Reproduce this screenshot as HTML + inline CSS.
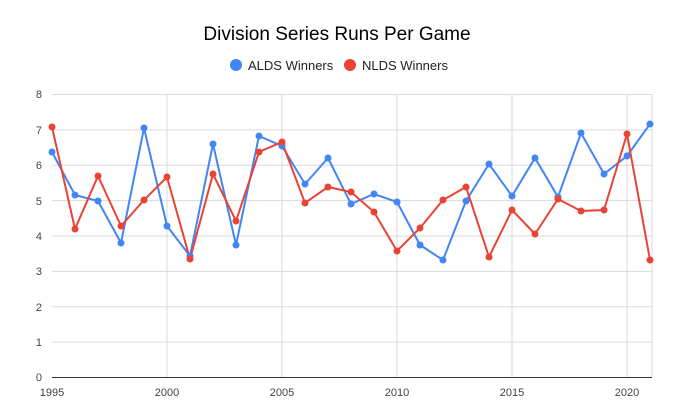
<!DOCTYPE html>
<html><head><meta charset="utf-8"><style>
body{margin:0;background:#fff;}
svg{display:block;font-family:"Liberation Sans",sans-serif;}
</style></head><body>
<svg width="675" height="418" viewBox="0 0 675 418">
<rect width="675" height="418" fill="#fff"/>
<text x="337" y="40" text-anchor="middle" font-size="19" fill="#000">Division Series Runs Per Game</text>
<circle cx="236" cy="65" r="6" fill="#4285f4"/>
<text x="248" y="70" font-size="13" fill="#222">ALDS Winners</text>
<circle cx="350" cy="65" r="6" fill="#ea4335"/>
<text x="362" y="70" font-size="13" fill="#222">NLDS Winners</text>
<g stroke="#d9d9d9" stroke-width="1">
<line x1="52" x2="652" y1="94.5" y2="94.5"/>
<line x1="52" x2="652" y1="129.9" y2="129.9"/>
<line x1="52" x2="652" y1="165.3" y2="165.3"/>
<line x1="52" x2="652" y1="200.6" y2="200.6"/>
<line x1="52" x2="652" y1="236" y2="236"/>
<line x1="52" x2="652" y1="271.4" y2="271.4"/>
<line x1="52" x2="652" y1="306.8" y2="306.8"/>
<line x1="52" x2="652" y1="342.1" y2="342.1"/>
<line x1="167" x2="167" y1="94" y2="377"/>
<line x1="282" x2="282" y1="94" y2="377"/>
<line x1="397" x2="397" y1="94" y2="377"/>
<line x1="512" x2="512" y1="94" y2="377"/>
<line x1="627" x2="627" y1="94" y2="377"/>
<line x1="652" x2="652" y1="94" y2="377"/>
</g>
<line x1="52" x2="652" y1="377.5" y2="377.5" stroke="#333"/>
<g font-size="11" fill="#444" text-anchor="end">
<text x="42" y="98">8</text><text x="42" y="134">7</text><text x="42" y="169">6</text>
<text x="42" y="205">5</text><text x="42" y="240">4</text><text x="42" y="275">3</text>
<text x="42" y="311">2</text><text x="42" y="346">1</text><text x="42" y="381">0</text>
</g>
<g font-size="11" fill="#444" text-anchor="middle">
<text x="52" y="396">1995</text><text x="167" y="396">2000</text><text x="282" y="396">2005</text>
<text x="397" y="396">2010</text><text x="512" y="396">2015</text><text x="627" y="396">2020</text>
</g>
<polyline fill="none" stroke="#4285f4" stroke-width="2" points="52,152 75,195 98,201 121,243 144,128 167,226 190,256 213,144 236,245 259,136 282,146 305,184 328,158 351,204 374,194 397,202 420,245 443,260 466,201 489,164 512,196 535,158 558,197 581,133 604,174 627,156 650,124"/>
<polyline fill="none" stroke="#ea4335" stroke-width="2" points="52,127 75,229 98,176 121,226 144,200 167,177 190,259 213,174 236,221 259,152 282,142 305,203 328,187 351,192 374,212 397,251 420,228 443,200 466,187 489,257 512,210 535,234 558,199 581,211 604,210 627,134 650,260"/>
<g fill="#4285f4">
<circle cx="52" cy="152" r="3.5"/><circle cx="75" cy="195" r="3.5"/><circle cx="98" cy="201" r="3.5"/><circle cx="121" cy="243" r="3.5"/><circle cx="144" cy="128" r="3.5"/><circle cx="167" cy="226" r="3.5"/><circle cx="190" cy="256" r="3.5"/><circle cx="213" cy="144" r="3.5"/><circle cx="236" cy="245" r="3.5"/><circle cx="259" cy="136" r="3.5"/><circle cx="282" cy="146" r="3.5"/><circle cx="305" cy="184" r="3.5"/><circle cx="328" cy="158" r="3.5"/><circle cx="351" cy="204" r="3.5"/><circle cx="374" cy="194" r="3.5"/><circle cx="397" cy="202" r="3.5"/><circle cx="420" cy="245" r="3.5"/><circle cx="443" cy="260" r="3.5"/><circle cx="466" cy="201" r="3.5"/><circle cx="489" cy="164" r="3.5"/><circle cx="512" cy="196" r="3.5"/><circle cx="535" cy="158" r="3.5"/><circle cx="558" cy="197" r="3.5"/><circle cx="581" cy="133" r="3.5"/><circle cx="604" cy="174" r="3.5"/><circle cx="627" cy="156" r="3.5"/><circle cx="650" cy="124" r="3.5"/>
</g>
<g fill="#ea4335">
<circle cx="52" cy="127" r="3.5"/><circle cx="75" cy="229" r="3.5"/><circle cx="98" cy="176" r="3.5"/><circle cx="121" cy="226" r="3.5"/><circle cx="144" cy="200" r="3.5"/><circle cx="167" cy="177" r="3.5"/><circle cx="190" cy="259" r="3.5"/><circle cx="213" cy="174" r="3.5"/><circle cx="236" cy="221" r="3.5"/><circle cx="259" cy="152" r="3.5"/><circle cx="282" cy="142" r="3.5"/><circle cx="305" cy="203" r="3.5"/><circle cx="328" cy="187" r="3.5"/><circle cx="351" cy="192" r="3.5"/><circle cx="374" cy="212" r="3.5"/><circle cx="397" cy="251" r="3.5"/><circle cx="420" cy="228" r="3.5"/><circle cx="443" cy="200" r="3.5"/><circle cx="466" cy="187" r="3.5"/><circle cx="489" cy="257" r="3.5"/><circle cx="512" cy="210" r="3.5"/><circle cx="535" cy="234" r="3.5"/><circle cx="558" cy="199" r="3.5"/><circle cx="581" cy="211" r="3.5"/><circle cx="604" cy="210" r="3.5"/><circle cx="627" cy="134" r="3.5"/><circle cx="650" cy="260" r="3.5"/>
</g>
</svg>
</body></html>
